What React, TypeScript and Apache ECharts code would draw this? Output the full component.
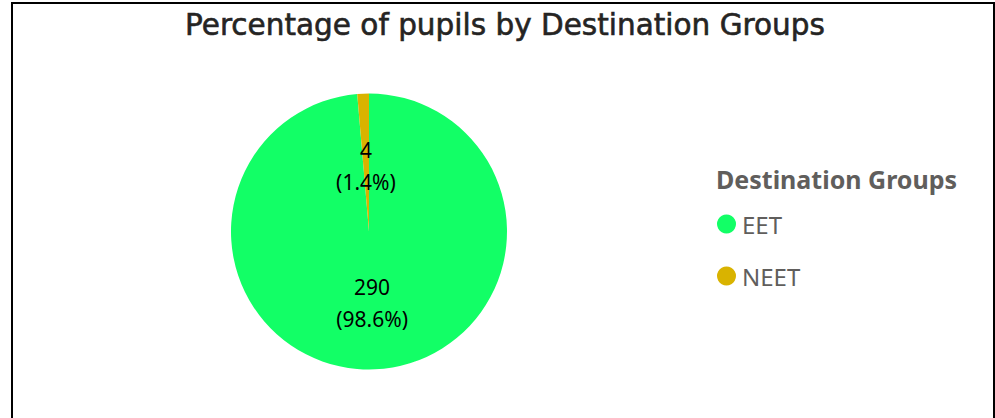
import React, { useEffect, useRef } from "react";
import * as echarts from "echarts";

const categories = ["EET", "NEET"];
const values = [290, 4];
const colors = ["#12FF66", "#D9B300"];
const chartTitle = "Percentage of pupils by Destination Groups";
const legendTitle = "Destination Groups";

export default function App() {
  const ref = useRef<HTMLDivElement>(null);
  useEffect(() => {
    document.body.style.margin = "0";
    const chart = echarts.init(ref.current!, null, { renderer: "svg" });
    chart.setOption({
      animation: false,
      backgroundColor: "#ffffff",
      title: {
        text: chartTitle,
        left: 185,
        top: 10,
        padding: 0,
        textStyle: {
          fontFamily: "DejaVu Sans",
          fontSize: 29.5,
          fontWeight: "normal",
          color: "#252423",
          textBorderColor: "#252423",
          textBorderWidth: 0.6,
        },
      },
      graphic: [
        {
          type: "rect",
          shape: { x: 12, y: 3, width: 982, height: 450 },
          style: { fill: "none", stroke: "#000", lineWidth: 2 },
          silent: true,
        },
        {
          type: "text",
          left: 716,
          top: 166,
          style: {
            text: legendTitle,
            fontFamily: "Noto Sans",
            fontWeight: "bold",
            fontSize: 25,
            fill: "#605E5C",
          },
        },
      ],
      legend: {
        orient: "vertical",
        left: 717,
        top: 212,
        padding: 0,
        icon: "circle",
        itemWidth: 19,
        itemHeight: 19,
        itemGap: 28,
        data: categories,
        textStyle: {
          fontFamily: "Noto Sans",
          fontSize: 24,
          color: "#605E5C",
          padding: [0, 0, 0, 1],
        },
      },
      series: [
        {
          type: "pie",
          center: [369, 231.5],
          radius: 138,
          startAngle: 90,
          clockwise: true,
          percentPrecision: 1,
          label: {
            show: true,
            position: "inside",
            formatter: "{c}\n({d}%)",
            fontFamily: "Noto Sans",
            fontSize: 21,
            lineHeight: 32,
            color: "#000",
          },
          labelLine: { show: false },
          emphasis: { disabled: true },
          data: categories.map((c, i) => ({
            name: c,
            value: values[i],
            itemStyle: { color: colors[i] },
            label: i === 1 ? { offset: [0, 6] } : {},
          })),
        },
      ],
    });
    return () => chart.dispose();
  }, []);
  return <div ref={ref} style={{ width: 995, height: 418 }} />;
}
